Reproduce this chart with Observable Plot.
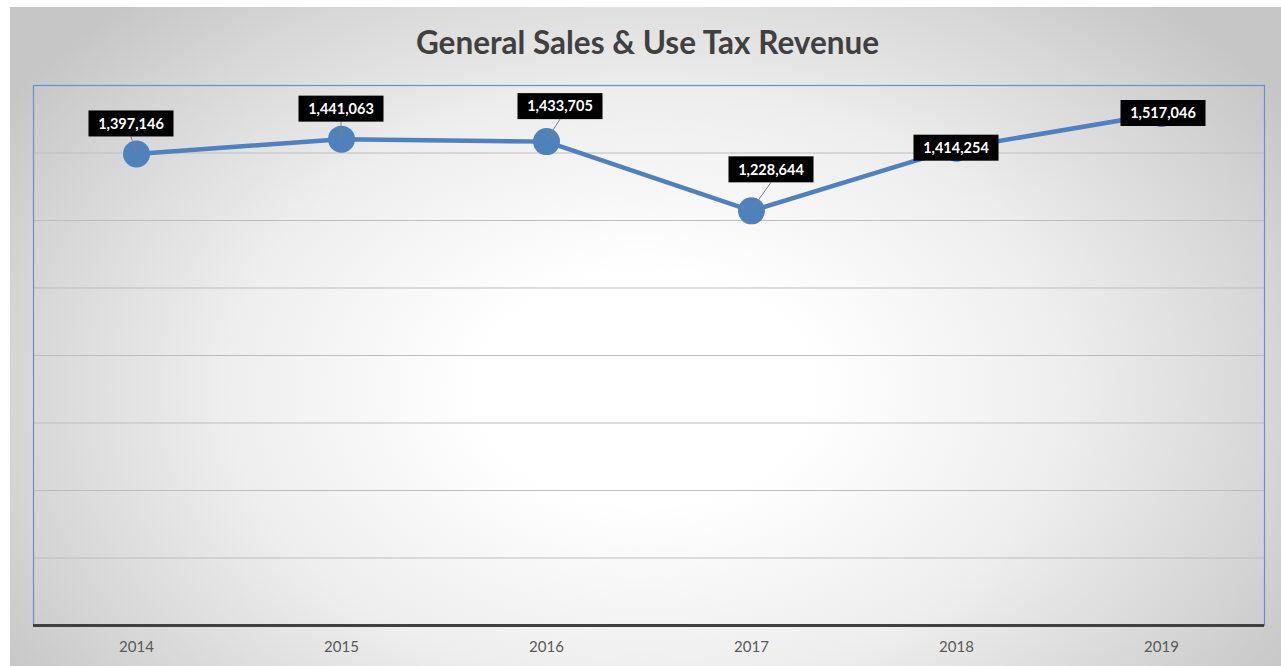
<!DOCTYPE html>
<html>
<head>
<meta charset="utf-8">
<script src="https://cdn.jsdelivr.net/npm/d3@7"></script>
<script src="https://cdn.jsdelivr.net/npm/@observablehq/plot@0.6"></script>
<style>
  html, body { margin: 0; padding: 0; background: #ffffff; }
  #chart {
    position: absolute; left: 10px; top: 7px; width: 1271px; height: 659px;
    background: radial-gradient(ellipse 60% 80% at 50% 58%, #ffffff 0%, #ffffff 22%, #eeeeee 55%, #d4d4d4 85%, #c6c6c6 100%);
    overflow: hidden;
  }
  #title {
    height: 62px; line-height: 70px; text-align: center; padding-left: 4px;
    font-family: Lato, "Open Sans", sans-serif; font-weight: bold; font-size: 31.5px; color: #404040;
  }
  #chart svg { background: transparent !important; display: block; }
</style>
</head>
<body>
<div id="chart">
  <div id="title">General Sales &amp; Use Tax Revenue</div>
</div>
<script>
const years = ["2014", "2015", "2016", "2017", "2018", "2019"];
const revenue = [1397146, 1441063, 1433705, 1228644, 1414254, 1517046];
const gridValues = [200000, 400000, 600000, 800000, 1000000, 1200000, 1400000];
const labelOffsets = [[-5, -30], [0, -30], [14, -35], [20, -41], [0, 0], [2, 0]];

const data = years.map((year, i) => ({year, value: revenue[i]}));
const fmt = d3.format(",");

const labels = Plot.text(data, {
  x: "year", y: "value", text: d => fmt(d.value),
  render(index, scales, values) {
    const g = d3.create("svg:g");
    for (const i of index) {
      const px = values.x[i], py = values.y[i];
      const [ox, oy] = labelOffsets[i];
      const cx = px + ox, cy = py + oy;
      if (ox || oy) {
        g.append("line").attr("x1", px).attr("y1", py).attr("x2", cx).attr("y2", cy + 13)
          .attr("stroke", "#7f7f7f").attr("stroke-width", 1);
      }
      g.append("rect").attr("x", cx - 42.5).attr("y", cy - 13).attr("width", 85).attr("height", 26)
        .attr("fill", "#000000");
      g.append("text").attr("x", cx).attr("y", cy).attr("text-anchor", "middle")
        .attr("dy", "0.36em").attr("fill", "#ffffff")
        .attr("font-family", "Lato, 'Open Sans', sans-serif").attr("font-weight", "bold")
        .attr("font-size", 14.5).text(fmt(data[i].value));
    }
    return g.node();
  }
});

const plot = Plot.plot({
  width: 1271,
  height: 597,
  marginLeft: 23,
  marginRight: 17,
  marginTop: 16,
  marginBottom: 41,
  style: {background: "transparent", fontFamily: "Lato, 'Open Sans', sans-serif"},
  x: {type: "point", domain: years, padding: 0.5, label: null},
  y: {domain: [0, 1600000], axis: null},
  marks: [
    Plot.ruleY(gridValues, {stroke: "#bdbdbd", strokeWidth: 1}),
    Plot.frame({stroke: "#5f93d6", strokeWidth: 1.2}),
    Plot.ruleY([0], {stroke: "#404040", strokeWidth: 3}),
    Plot.line(data, {x: "year", y: "value", stroke: "#4f81bd", strokeWidth: 4.5}),
    Plot.dot(data, {x: "year", y: "value", r: 13.5, fill: "#4f81bd"}),
    labels,
    Plot.axisX({tickSize: 0, tickPadding: 16, fontSize: 15, fill: "#595959", label: null})
  ]
});
document.getElementById("chart").appendChild(plot);
</script>
</body>
</html>
